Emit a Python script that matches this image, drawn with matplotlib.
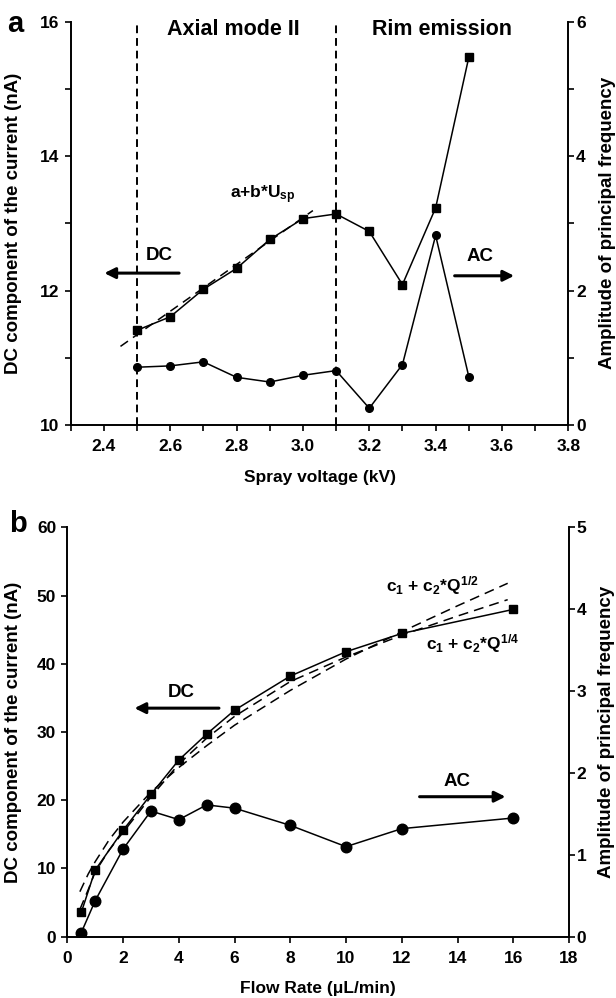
import numpy as np
import matplotlib.pyplot as plt

plt.rcParams['font.family'] = ['Liberation Sans', 'DejaVu Sans']
plt.rcParams['font.weight'] = 'bold'
plt.rcParams['mathtext.fontset'] = 'custom'
plt.rcParams['mathtext.rm'] = 'Liberation Sans:bold'
plt.rcParams['mathtext.it'] = 'Liberation Sans:bold'
plt.rcParams['mathtext.bf'] = 'Liberation Sans:bold'

# panel a: DC / AC vs spray voltage
voltage = [2.5, 2.6, 2.7, 2.8, 2.9, 3.0, 3.1, 3.2, 3.3, 3.4, 3.5]
dc_a = [11.41, 11.61, 12.02, 12.33, 12.76, 13.07, 13.14, 12.88, 12.09, 13.23, 15.47]
ac_a = [0.86, 0.88, 0.94, 0.71, 0.64, 0.74, 0.81, 0.25, 0.90, 2.82, 0.72]
fit_a_x = [2.45, 3.03]
fit_a_y = [11.17, 13.19]
mode_bounds = [2.5, 3.1]

# panel b: DC / AC vs flow rate
flow = [0.5, 1, 2, 3, 4, 5, 6, 8, 10, 12, 16]
dc_b = [3.56, 9.77, 15.6, 20.85, 25.9, 29.7, 33.2, 38.2, 41.77, 44.45, 47.97]
ac_b = [0.05, 0.44, 1.07, 1.535, 1.43, 1.61, 1.57, 1.36, 1.10, 1.32, 1.45]
fit_q = [0.45, 0.75, 1, 1.5, 2, 3, 4, 5, 6, 8, 10, 12, 14, 15.8]
fit_half = [6.6, 9.2, 11.0, 14.2, 16.8, 21.2, 24.8, 28.0, 31.0, 36.1, 40.7, 44.7, 48.5, 51.8]
fit_quarter = [4.0, 6.9, 9.5, 12.7, 15.3, 20.5, 25.3, 29.1, 32.3, 37.4, 41.0, 44.2, 47.0, 49.4]

TICK = 12.5
LW = 1.1


def style(ax, ax2):
    ax.spines['top'].set_visible(False)
    ax.spines['right'].set_visible(False)
    ax2.spines['top'].set_visible(False)
    ax2.spines['left'].set_visible(False)
    ax2.spines['bottom'].set_visible(False)
    for sp in ['left', 'bottom']:
        ax.spines[sp].set_linewidth(1.4)
    ax2.spines['right'].set_linewidth(1.4)
    for a in (ax, ax2):
        a.tick_params(which='both', direction='out', width=1.2, length=4, labelsize=TICK)
    ax.tick_params(axis='x', pad=6)
    ax.tick_params(axis='y', pad=4)
    ax2.tick_params(axis='y', pad=1.5)


fig = plt.figure(figsize=(6.16, 9.98), dpi=100)

# ---------- panel a ----------
ax = fig.add_axes([0.1148, 0.5741, 0.8078, 0.4042])
ax2 = ax.twinx()
style(ax, ax2)

ax.plot(voltage, dc_a, '-s', color='k', lw=LW, ms=5.3, zorder=3)
ax.plot(fit_a_x, fit_a_y, color='k', lw=LW, ls=(0, (6, 4)), zorder=2)
ax2.plot(voltage, ac_a, '-o', color='k', lw=LW, ms=5.5, zorder=3)
for v in mode_bounds:
    ax.axvline(v, color='k', lw=1.4, ls=(0, (4, 2.5)))

ax.set_xlim(2.3, 3.8)
ax.set_ylim(10, 16)
ax2.set_ylim(0, 6)
ax.set_xticks(np.arange(2.4, 3.81, 0.2))
ax.set_xticks(np.arange(2.3, 3.8, 0.2), minor=True)
ax.set_xticklabels(['2.4', '2.6', '2.8', '3.0', '3.2', '3.4', '3.6', '3.8'])
ax.set_yticks([10, 12, 14, 16])
ax.set_yticks([11, 13, 15], minor=True)
ax2.set_yticks([0, 2, 4, 6])
ax2.set_yticks([1, 3, 5], minor=True)

ax.set_xlabel('Spray voltage (kV)', fontsize=12.5, fontweight='bold')
ax.set_ylabel('DC component of the current (nA)', fontsize=13.5, fontweight='bold')
ax2.set_ylabel('Amplitude of principal frequency', fontsize=13.5, fontweight='bold')
ax.xaxis.set_label_coords(0.5, -0.112)
ax.yaxis.set_label_coords(-0.098, 0.5)
ax2.yaxis.set_label_coords(1.062, 0.5)

ax.text(2.79, 15.88, 'Axial mode II', fontsize=15.5, ha='center', va='center')
ax.text(3.42, 15.88, 'Rim emission', fontsize=15.5, ha='center', va='center')
ax.text(2.88, 13.42, r'a+b*U$_{sp}$', fontsize=12.5, ha='center', va='center')
ax.text(2.566, 12.52, 'DC', fontsize=13.5, ha='center', va='center')
ax.annotate('', xy=(2.393, 12.26), xytext=(2.635, 12.26),
            arrowprops=dict(arrowstyle='-|>', lw=2.2, color='k', mutation_scale=16))
ax2.text(3.534, 2.51, 'AC', fontsize=13.5, ha='center', va='center')
ax2.annotate('', xy=(3.645, 2.22), xytext=(3.449, 2.22),
             arrowprops=dict(arrowstyle='-|>', lw=2.2, color='k', mutation_scale=16))
fig.text(15 / 616, 1 - 24 / 998, 'a', fontsize=21, ha='center', va='center')

# ---------- panel b ----------
bx = fig.add_axes([0.1093, 0.0614, 0.8144, 0.4102])
bx2 = bx.twinx()
style(bx, bx2)

bx.plot(fit_q, fit_half, color='k', lw=LW, ls=(0, (6.5, 4)), zorder=2)
bx.plot(fit_q, fit_quarter, color='k', lw=LW, ls=(0, (6.5, 4)), zorder=2)
bx.plot(flow, dc_b, '-s', color='k', lw=LW, ms=5.5, zorder=3)
bx2.plot(flow, ac_b, '-o', color='k', lw=LW, ms=7.6, zorder=3)

bx.set_xlim(0, 18)
bx.set_ylim(0, 60)
bx2.set_ylim(0, 5)
bx.set_xticks(np.arange(0, 19, 2))
bx.set_yticks(np.arange(0, 61, 10))
bx2.set_yticks(np.arange(0, 6, 1))

bx.set_xlabel('Flow Rate (\u03bcL/min)', fontsize=12.5, fontweight='bold')
bx.set_ylabel('DC component of the current (nA)', fontsize=13.5, fontweight='bold')
bx2.set_ylabel('Amplitude of principal frequency', fontsize=13.5, fontweight='bold')
bx.xaxis.set_label_coords(0.5, -0.108)
bx.yaxis.set_label_coords(-0.09, 0.5)
bx2.yaxis.set_label_coords(1.058, 0.5)

bx.text(13.1, 51.5, r'c$_1$ + c$_2$*Q$^{1/2}$', fontsize=12.5, ha='center', va='center')
bx.text(14.53, 43.0, r'c$_1$ + c$_2$*Q$^{1/4}$', fontsize=12.5, ha='center', va='center')
bx.text(4.07, 35.8, 'DC', fontsize=13.5, ha='center', va='center')
bx.annotate('', xy=(2.31, 33.5), xytext=(5.54, 33.5),
            arrowprops=dict(arrowstyle='-|>', lw=2.2, color='k', mutation_scale=16))
bx2.text(14.0, 1.89, 'AC', fontsize=13.5, ha='center', va='center')
bx2.annotate('', xy=(15.82, 1.71), xytext=(12.54, 1.71),
             arrowprops=dict(arrowstyle='-|>', lw=2.2, color='k', mutation_scale=16))
fig.text(18 / 616, 1 - 524 / 998, 'b', fontsize=21, ha='center', va='center')

fig.savefig('out.png', dpi=100)
